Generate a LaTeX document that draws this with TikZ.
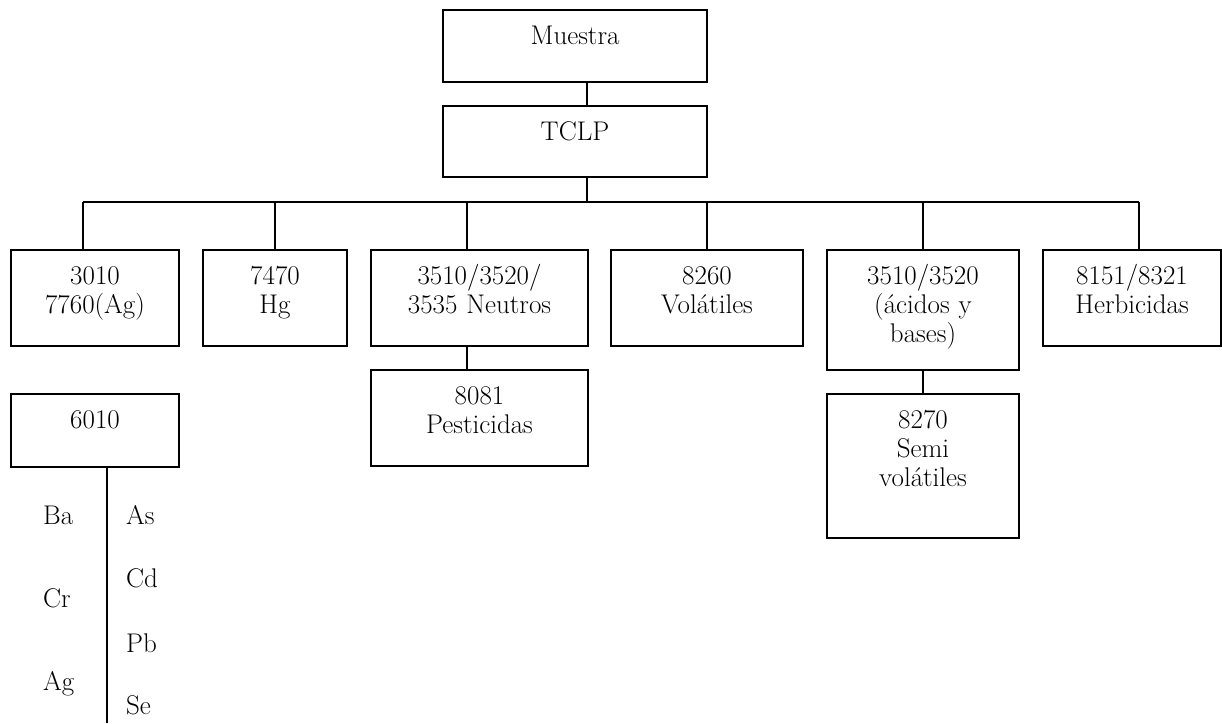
\documentclass[tikz,border=0pt]{standalone}
\usepackage{fontspec}
\usepackage{tikz}
\usetikzlibrary{
  positioning,
  calc
}
\tikzset{
  box/.style 2 args={
    draw,
    line width=1.2pt,
    inner sep=0pt,
    align=center,
    text width=#1,
    text height=34pt,
    text depth=#2
  },
  link/.style={
    line width=1.2pt
  },
  metal/.style={
    anchor=base west,
    inner sep=0pt
  }
}

\begin{document}
\begin{tikzpicture}[x=1pt,y=-1pt,font=\fontsize{27}{29}\selectfont]

  \useasboundingbox (0,0) rectangle (1222,723);

  \node[box={264pt}{38pt}] at (575,46) (muestra) {
    Muestra
  };

  \node[box={264pt}{37pt}] at (575,141.5) (tclp) {
    TCLP
  };

  \node[box={168pt}{62pt}] at (95,298) (metales) {
    3010\\7760(Ag)
  };

  \node[box={144pt}{62pt}] at (275,298) (mercurio) {
    7470\\Hg
  };

  \node[box={217pt}{62pt}] at (479.5,298) (neutros) {
    3510/3520/\\3535 Neutros
  };

  \node[box={192pt}{62pt}] at (707,298) (volatiles) {
    8260\\Volátiles
  };

  \node[box={192pt}{86pt}] at (923,310) (acidos) {
    3510/3520\\(ácidos y\\bases)
  };

  \node[box={178pt}{62pt}] at (1132,298) (herbicidas) {
    8151/8321\\Herbicidas
  };

  \node[box={168pt}{39pt}] at (95,430.5) (icp) {
    6010
  };

  \node[box={217pt}{62pt}] at (479.5,418) (pesticidas) {
    8081\\Pesticidas
  };

  \node[box={192pt}{110pt}] at (923,466) (semivol) {
    8270\\Semi\\volátiles
  };

  % tronco y barra
  \coordinate (trunk) at (587,0);
  \coordinate (bus) at (0,202);
  \coordinate (b1) at (83,0);
  \coordinate (b2) at (275,0);
  \coordinate (b3) at (467,0);
  \coordinate (b4) at (707,0);
  \coordinate (b5) at (923,0);
  \coordinate (b6) at (1139,0);
  \coordinate (spine) at (107,0);
  \coordinate (bottom) at (0,723);

  \draw[link]
  (muestra.south -| trunk) --
  (tclp.north -| trunk);

  \draw[link]
  (tclp.south -| trunk) --
  (bus -| trunk);

  \draw[link]
  (bus -| b1) --
  (bus -| b6);

  \draw[link] (bus -| b1) -- (metales.north -| b1);
  \draw[link] (bus -| b2) -- (mercurio.north -| b2);
  \draw[link] (bus -| b3) -- (neutros.north -| b3);
  \draw[link] (bus -| b4) -- (volatiles.north -| b4);
  \draw[link] (bus -| b5) -- (acidos.north -| b5);
  \draw[link] (bus -| b6) -- (herbicidas.north -| b6);

  \draw[link]
  (neutros.south -| b3) --
  (pesticidas.north -| b3);

  \draw[link]
  (acidos.south -| b5) --
  (semivol.north -| b5);

  \draw[link]
  (icp.south -| spine) --
  (bottom -| spine);

  % metales por 6010
  \node[metal] at (43,524) (ba) {Ba};
  \node[metal] at (43,607) (cr) {Cr};
  \node[metal] at (43,690) (ag) {Ag};
  \node[metal] at (126,524) (as) {As};
  \node[metal] at (126,587) (cd) {Cd};
  \node[metal] at (126,652) (pb) {Pb};
  \node[metal] at (126,714) (se) {Se};

\end{tikzpicture}
\end{document}
